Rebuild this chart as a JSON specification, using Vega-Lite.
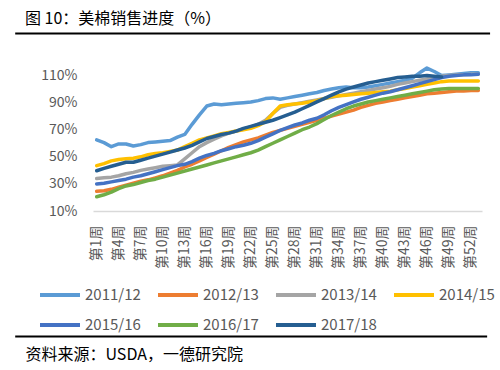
{
  "$schema": "https://vega.github.io/schema/vega-lite/v6.json",
  "autosize": "none",
  "width": 389,
  "height": 149,
  "padding": {"left": 93, "top": 62, "right": 18, "bottom": 159},
  "background": "white",
  "config": {
    "font": "Noto Sans CJK SC",
    "view": {"stroke": null}
  },
  "title": {
    "text": "图 10：美棉销售进度（%）",
    "anchor": "start",
    "frame": "group",
    "dx": -68,
    "fontSize": 16,
    "fontWeight": "normal",
    "color": "#000000",
    "offset": 6
  },
  "data": {
    "values": [
      {"week": 1, "2011/12": 62.5, "2012/13": 24.5, "2013/14": 34, "2014/15": 43.5, "2015/16": 30, "2016/17": 20.5, "2017/18": 39.7},
      {"week": 2, "2011/12": 60.5, "2012/13": 25, "2013/14": 34.5, "2014/15": 45, "2015/16": 30.5, "2016/17": 22, "2017/18": 41.5},
      {"week": 3, "2011/12": 57.5, "2012/13": 26, "2013/14": 35, "2014/15": 47, "2015/16": 31.5, "2016/17": 24, "2017/18": 43},
      {"week": 4, "2011/12": 59.5, "2012/13": 27.5, "2013/14": 36, "2014/15": 48, "2015/16": 32.5, "2016/17": 26.5, "2017/18": 44.5},
      {"week": 5, "2011/12": 59.5, "2012/13": 29, "2013/14": 37.5, "2014/15": 48.5, "2015/16": 33.5, "2016/17": 28.5, "2017/18": 46},
      {"week": 6, "2011/12": 58, "2012/13": 30.5, "2013/14": 38.5, "2014/15": 49, "2015/16": 35, "2016/17": 29.5, "2017/18": 46},
      {"week": 7, "2011/12": 59, "2012/13": 32, "2013/14": 40, "2014/15": 50, "2015/16": 36, "2016/17": 31, "2017/18": 47.5},
      {"week": 8, "2011/12": 60.5, "2012/13": 33, "2013/14": 41, "2014/15": 51.5, "2015/16": 37.5, "2016/17": 32.5, "2017/18": 49},
      {"week": 9, "2011/12": 61, "2012/13": 34.5, "2013/14": 42, "2014/15": 52.5, "2015/16": 39, "2016/17": 33.5, "2017/18": 50.5},
      {"week": 10, "2011/12": 61.5, "2012/13": 36, "2013/14": 43, "2014/15": 53, "2015/16": 40.5, "2016/17": 35, "2017/18": 52},
      {"week": 11, "2011/12": 62, "2012/13": 38, "2013/14": 43.5, "2014/15": 54, "2015/16": 42, "2016/17": 36.5, "2017/18": 53.5},
      {"week": 12, "2011/12": 64.5, "2012/13": 40, "2013/14": 44, "2014/15": 55, "2015/16": 43.5, "2016/17": 38, "2017/18": 55},
      {"week": 13, "2011/12": 66.5, "2012/13": 42.5, "2013/14": 48.5, "2014/15": 57.5, "2015/16": 44.5, "2016/17": 39.5, "2017/18": 56.5},
      {"week": 14, "2011/12": 74, "2012/13": 44.5, "2013/14": 53, "2014/15": 60, "2015/16": 46.5, "2016/17": 41, "2017/18": 58.5},
      {"week": 15, "2011/12": 81, "2012/13": 47, "2013/14": 57.5, "2014/15": 62.5, "2015/16": 49, "2016/17": 42.5, "2017/18": 61},
      {"week": 16, "2011/12": 87.5, "2012/13": 49.5, "2013/14": 60.5, "2014/15": 64, "2015/16": 51, "2016/17": 44, "2017/18": 63.5},
      {"week": 17, "2011/12": 89, "2012/13": 52, "2013/14": 63, "2014/15": 65.5, "2015/16": 52.5, "2016/17": 45.5, "2017/18": 65},
      {"week": 18, "2011/12": 88.5, "2012/13": 54.5, "2013/14": 65.5, "2014/15": 67, "2015/16": 54.5, "2016/17": 47, "2017/18": 66.5},
      {"week": 19, "2011/12": 89, "2012/13": 57, "2013/14": 67.5, "2014/15": 68, "2015/16": 56, "2016/17": 48.5, "2017/18": 67.5},
      {"week": 20, "2011/12": 89.5, "2012/13": 59, "2013/14": 69, "2014/15": 69, "2015/16": 57.5, "2016/17": 50, "2017/18": 69},
      {"week": 21, "2011/12": 90, "2012/13": 61, "2013/14": 70.5, "2014/15": 70, "2015/16": 58.5, "2016/17": 51.5, "2017/18": 71},
      {"week": 22, "2011/12": 90.5, "2012/13": 62.5, "2013/14": 72, "2014/15": 71, "2015/16": 60, "2016/17": 53, "2017/18": 72.5},
      {"week": 23, "2011/12": 91.5, "2012/13": 64, "2013/14": 74, "2014/15": 73, "2015/16": 62, "2016/17": 55, "2017/18": 74},
      {"week": 24, "2011/12": 93, "2012/13": 66, "2013/14": 77, "2014/15": 76, "2015/16": 64.5, "2016/17": 57.5, "2017/18": 75.5},
      {"week": 25, "2011/12": 93.5, "2012/13": 68, "2013/14": 82, "2014/15": 82, "2015/16": 67, "2016/17": 60, "2017/18": 77},
      {"week": 26, "2011/12": 92.5, "2012/13": 69.5, "2013/14": 86.5, "2014/15": 87.5, "2015/16": 69.5, "2016/17": 62.5, "2017/18": 79},
      {"week": 27, "2011/12": 93.5, "2012/13": 71, "2013/14": 88, "2014/15": 88.5, "2015/16": 71.5, "2016/17": 65, "2017/18": 81},
      {"week": 28, "2011/12": 94.5, "2012/13": 72.5, "2013/14": 89, "2014/15": 89, "2015/16": 73.5, "2016/17": 67.5, "2017/18": 83},
      {"week": 29, "2011/12": 95.5, "2012/13": 74, "2013/14": 90, "2014/15": 89.5, "2015/16": 75, "2016/17": 70, "2017/18": 85.5},
      {"week": 30, "2011/12": 96.5, "2012/13": 75.5, "2013/14": 91, "2014/15": 90.5, "2015/16": 77, "2016/17": 72, "2017/18": 88},
      {"week": 31, "2011/12": 97.5, "2012/13": 77, "2013/14": 92, "2014/15": 91.5, "2015/16": 78.5, "2016/17": 74.5, "2017/18": 90.5},
      {"week": 32, "2011/12": 99, "2012/13": 78.5, "2013/14": 93, "2014/15": 93, "2015/16": 81, "2016/17": 77.5, "2017/18": 93},
      {"week": 33, "2011/12": 100, "2012/13": 80, "2013/14": 94, "2014/15": 94.5, "2015/16": 84, "2016/17": 80.5, "2017/18": 95.5},
      {"week": 34, "2011/12": 101, "2012/13": 81.5, "2013/14": 95, "2014/15": 95, "2015/16": 86.5, "2016/17": 83, "2017/18": 98},
      {"week": 35, "2011/12": 101.5, "2012/13": 83, "2013/14": 96, "2014/15": 95.5, "2015/16": 88.5, "2016/17": 85.5, "2017/18": 100},
      {"week": 36, "2011/12": 101, "2012/13": 84.5, "2013/14": 97, "2014/15": 96, "2015/16": 90.5, "2016/17": 87.5, "2017/18": 101.5},
      {"week": 37, "2011/12": 101, "2012/13": 86.5, "2013/14": 98, "2014/15": 96.5, "2015/16": 92.5, "2016/17": 89, "2017/18": 103},
      {"week": 38, "2011/12": 101.5, "2012/13": 88, "2013/14": 99, "2014/15": 97, "2015/16": 94, "2016/17": 90.5, "2017/18": 104.5},
      {"week": 39, "2011/12": 102.5, "2012/13": 89.5, "2013/14": 100, "2014/15": 97.5, "2015/16": 95.5, "2016/17": 91.5, "2017/18": 105.5},
      {"week": 40, "2011/12": 103.5, "2012/13": 90.5, "2013/14": 101, "2014/15": 98, "2015/16": 97, "2016/17": 92.5, "2017/18": 106.5},
      {"week": 41, "2011/12": 104.5, "2012/13": 91.5, "2013/14": 102, "2014/15": 98.5, "2015/16": 98, "2016/17": 93.5, "2017/18": 107.5},
      {"week": 42, "2011/12": 105.5, "2012/13": 92.5, "2013/14": 103.5, "2014/15": 99.5, "2015/16": 99.5, "2016/17": 94.5, "2017/18": 108.5},
      {"week": 43, "2011/12": 106.5, "2012/13": 93.5, "2013/14": 104.5, "2014/15": 100.5, "2015/16": 101, "2016/17": 95.5, "2017/18": 109},
      {"week": 44, "2011/12": 108, "2012/13": 94.5, "2013/14": 105.5, "2014/15": 101.5, "2015/16": 102.5, "2016/17": 96.5, "2017/18": 109.5},
      {"week": 45, "2011/12": 112, "2012/13": 95.5, "2013/14": 106.5, "2014/15": 102.5, "2015/16": 104, "2016/17": 97.5, "2017/18": 109.5},
      {"week": 46, "2011/12": 115.5, "2012/13": 96.5, "2013/14": 107.5, "2014/15": 103.5, "2015/16": 105.5, "2016/17": 98.5, "2017/18": 110},
      {"week": 47, "2011/12": 113, "2012/13": 97, "2013/14": 108.5, "2014/15": 104.5, "2015/16": 107, "2016/17": 99.5, "2017/18": 109.5},
      {"week": 48, "2011/12": 110, "2012/13": 97.5, "2013/14": 109.5, "2014/15": 105.5, "2015/16": 108.5, "2016/17": 100, "2017/18": 109},
      {"week": 49, "2011/12": 110.5, "2012/13": 98, "2013/14": 110, "2014/15": 106, "2015/16": 109.5, "2016/17": 100.5, "2017/18": null},
      {"week": 50, "2011/12": 111, "2012/13": 98.5, "2013/14": 110.5, "2014/15": 106, "2015/16": 110, "2016/17": 100.5, "2017/18": null},
      {"week": 51, "2011/12": 111.5, "2012/13": 98.5, "2013/14": 110.5, "2014/15": 106, "2015/16": 110.5, "2016/17": 100.5, "2017/18": null},
      {"week": 52, "2011/12": 112, "2012/13": 99, "2013/14": 111, "2014/15": 106, "2015/16": 110.5, "2016/17": 100.5, "2017/18": null},
      {"week": 53, "2011/12": 112, "2012/13": 99, "2013/14": 111, "2014/15": 106, "2015/16": 111, "2016/17": 100.5, "2017/18": null}
    ]
  },
  "layer": [
    {
      "transform": [
        {"fold": ["2011/12", "2012/13", "2013/14", "2014/15", "2015/16", "2016/17", "2017/18"], "as": ["season", "value"]},
        {"filter": "datum.value != null"}
      ],
      "mark": {"type": "line", "strokeWidth": 3.5, "strokeJoin": "round", "strokeCap": "round"},
      "encoding": {
        "x": {
          "field": "week",
          "type": "quantitative",
          "scale": {"domain": [0.5, 53.5], "nice": false, "zero": false},
          "axis": {
            "values": [1, 4, 7, 10, 13, 16, 19, 22, 25, 28, 31, 34, 37, 40, 43, 46, 49, 52],
            "tickCount": 100,
            "labelExpr": "'第' + datum.value + '周'",
            "labelAngle": -90,
            "labelFontSize": 14,
            "labelColor": "#595959",
            "labelPadding": 14,
            "labelFlush": false,
            "labelOverlap": false,
            "ticks": false,
            "tickSize": 0,
            "grid": false,
            "domainColor": "#D9D9D9",
            "domainWidth": 1.5,
            "title": "资料来源：USDA，一德研究院",
            "titleFontSize": 16,
            "titleFontWeight": "normal",
            "titleColor": "#000000",
            "titleAlign": "left",
            "titleBaseline": "middle",
            "titleX": -68,
            "titleY": 143
          }
        },
        "y": {
          "field": "value",
          "type": "quantitative",
          "scale": {"domain": [10, 120], "nice": false, "zero": false},
          "axis": {
            "values": [10, 30, 50, 70, 90, 110],
            "tickCount": 100,
            "labelExpr": "datum.value + '%'",
            "labelFontSize": 14,
            "labelColor": "#595959",
            "labelPadding": 16,
            "labelOverlap": false,
            "ticks": false,
            "tickSize": 0,
            "domain": false,
            "grid": false,
            "title": null
          }
        },
        "color": {
          "field": "season",
          "type": "nominal",
          "scale": {
            "domain": ["2011/12", "2012/13", "2013/14", "2014/15", "2015/16", "2016/17", "2017/18"],
            "range": ["#5B9BD5", "#ED7D31", "#A5A5A5", "#FFC000", "#4472C4", "#70AD47", "#255E91"]
          },
          "legend": {
            "orient": "none",
            "legendX": -55,
            "legendY": 211,
            "direction": "horizontal",
            "columns": 4,
            "columnPadding": 9,
            "rowPadding": -14,
            "padding": 0,
            "title": null,
            "symbolType": "stroke",
            "symbolSize": 1600,
            "symbolStrokeWidth": 4,
            "labelFontSize": 15,
            "labelColor": "#595959",
            "labelOffset": 3
          }
        }
      }
    },
    {
      "data": {"values": [{}]},
      "mark": {"type": "rule", "color": "#000000", "strokeWidth": 2},
      "encoding": {
        "x": {"datum": -10.1, "type": "quantitative"},
        "x2": {"datum": 54.6},
        "y": {"datum": 141, "type": "quantitative"}
      }
    },
    {
      "data": {"values": [{}]},
      "mark": {"type": "rule", "color": "#000000", "strokeWidth": 2},
      "encoding": {
        "x": {"datum": -10.1, "type": "quantitative"},
        "x2": {"datum": 54.2},
        "y": {"datum": -82.6, "type": "quantitative"}
      }
    }
  ]
}
